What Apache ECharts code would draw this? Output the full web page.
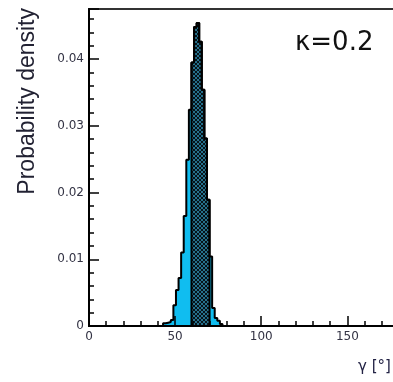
<!DOCTYPE html>
<html>
<head>
<meta charset="utf-8">
<script src="https://cdn.jsdelivr.net/npm/echarts@6/dist/echarts.min.js"></script>
<style>
  html, body { margin: 0; padding: 0; background: #fff; overflow: hidden; }
  #main { width: 410px; height: 382px; }
</style>
</head>
<body>
<div id="main"></div>
<script>
// histogram bins (lower edge, 1.5 degree wide) and probability density
const binWidth = 1.5;
const binLow = [43, 44.5, 46, 47.5, 49, 50.5, 52, 53.5, 55, 56.5, 58, 59.5,
  61, 62.5, 64, 65.5, 67, 68.5, 70, 71.5, 73, 74.5, 76];
const density = [0.0004, 0.0005, 0.0006, 0.0009, 0.0031, 0.0054, 0.0072, 0.0110,
  0.0165, 0.0249, 0.0324, 0.0395, 0.0448, 0.0454, 0.0426, 0.0354, 0.0281,
  0.0189, 0.0104, 0.0027, 0.0012, 0.0008, 0.0003];
// central band drawn hatched
const bandFrom = 59.5;
const bandTo = 70;
const xTicks = [0, 50, 100, 150];
const yTicks = [0, 0.01, 0.02, 0.03, 0.04];

function stepData(lows, vals) {
  const d = [[lows[0], 0]];
  lows.forEach((l, i) => d.push([l, vals[i]]));
  const end = lows[lows.length - 1] + binWidth;
  d.push([end, vals[vals.length - 1]]);
  d.push([end, 0]);
  return d;
}

const bandLow = [], bandVal = [];
binLow.forEach((l, i) => {
  if (l >= bandFrom && l < bandTo) { bandLow.push(l); bandVal.push(density[i]); }
});

// hatch pattern
const pat = document.createElement('canvas');
pat.width = 4; pat.height = 4;
const pc = pat.getContext('2d');
pc.fillStyle = '#26708c';
pc.fillRect(0, 0, 4, 4);
pc.fillStyle = '#06141a';
for (let i = 0; i < 4; i++) {
  pc.fillRect(i, i, 1, 1);
  pc.fillRect(3 - i, i, 1, 1);
}

const labelFont = { fontFamily: '"DejaVu Sans"', fontSize: 12, color: '#333344' };

const option = {
  animation: false,
  grid: {
    left: 89, top: 9, width: 310, height: 317,
    show: true, borderColor: '#333', borderWidth: 2
  },
  xAxis: {
    type: 'value', min: 0, max: 180, interval: 50, z: 10,
    axisLine: { lineStyle: { color: '#000', width: 2 } },
    axisTick: { inside: true, length: 10, lineStyle: { color: '#000', width: 1.5 } },
    minorTick: { show: true, splitNumber: 5, length: 5, lineStyle: { color: '#000', width: 1.5 } },
    splitLine: { show: false },
    axisLabel: Object.assign({ margin: 5, showMaxLabel: false,
      formatter: v => (xTicks.includes(v) ? String(v) : '') }, labelFont)
  },
  yAxis: {
    type: 'value', min: 0, max: 0.0475, interval: 0.01, z: 10,
    axisLine: { lineStyle: { color: '#000', width: 2 } },
    axisTick: { inside: true, length: 10, lineStyle: { color: '#000', width: 1.5 } },
    minorTick: { show: true, splitNumber: 5, length: 5, lineStyle: { color: '#000', width: 1.5 } },
    splitLine: { show: false },
    axisLabel: Object.assign({ margin: 5, showMaxLabel: false,
      formatter: v => (yTicks.includes(v) ? String(v) : '') }, labelFont)
  },
  series: [
    {
      type: 'line', step: 'end', symbol: 'none',
      data: stepData(binLow, density),
      lineStyle: { color: '#000', width: 2 },
      areaStyle: { color: '#10bdf0', opacity: 1 }
    },
    {
      type: 'line', step: 'end', symbol: 'none',
      data: stepData(bandLow, bandVal),
      lineStyle: { color: '#000', width: 2 },
      areaStyle: { color: { image: pat, repeat: 'repeat' }, opacity: 1 }
    }
  ],
  graphic: [
    {
      type: 'text', x: 28, y: 8, rotation: Math.PI / 2,
      style: { text: 'Probability density', font: '23px "Liberation Sans"', fill: '#222233',
        align: 'right', textAlign: 'right', verticalAlign: 'middle', textVerticalAlign: 'middle' }
    },
    {
      type: 'text', x: 295, y: 43,
      style: { text: 'κ=0.2', font: '26px "DejaVu Sans"', fill: '#111',
        align: 'left', textAlign: 'left', verticalAlign: 'middle', textVerticalAlign: 'middle' }
    },
    {
      type: 'text', x: 358, y: 367,
      style: { text: 'γ [°]', font: '15px "DejaVu Sans"', fill: '#222244',
        align: 'left', textAlign: 'left', verticalAlign: 'middle', textVerticalAlign: 'middle' }
    }
  ]
};

const myChart = echarts.init(document.getElementById('main'));
myChart.setOption(option);
</script>
</body>
</html>
